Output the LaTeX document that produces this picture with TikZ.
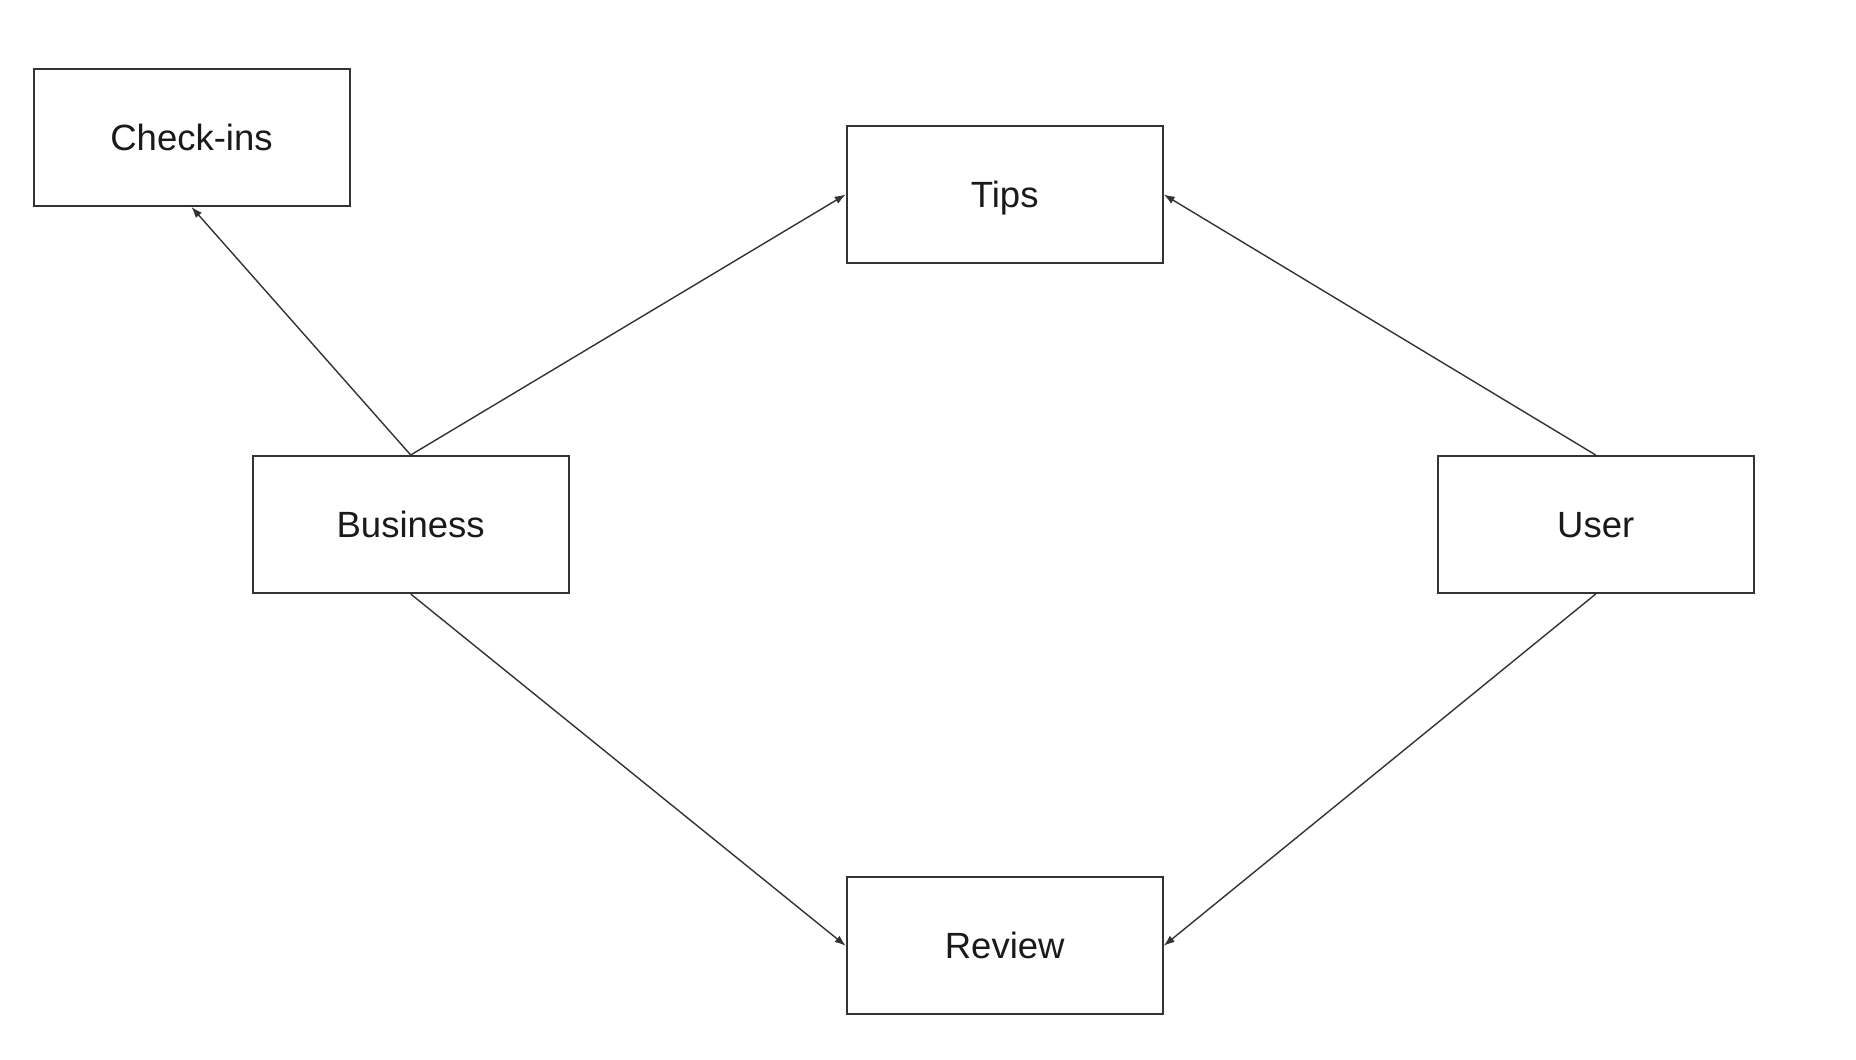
\documentclass[tikz,border=0pt]{standalone}
\usepackage{fontspec}
\setmainfont{Liberation Sans}
\usetikzlibrary{arrows.meta}
\definecolor{edgegray}{HTML}{333333}
\definecolor{textgray}{HTML}{1A1A1A}
\begin{document}
\begin{tikzpicture}[x=1pt,y=-1pt,
  entity/.style={draw=edgegray, line width=2pt, fill=white, minimum width=316pt, minimum height=137pt,
    inner sep=0pt, text height=26.1pt, text depth=0pt, font=\fontsize{36.5}{40}\selectfont, text=textgray},
  link/.style={draw=edgegray, line width=1.4pt, -{Latex[length=11pt,width=8pt]}}]
\useasboundingbox (0,0) rectangle (1856,1060);
\fill[white] (0,0) rectangle (1856,1060);
\node[entity] (checkins) at (191.5,137.5) {Check-ins};
\node[entity] (tips) at (1004.7,194.5) {Tips};
\node[entity] (business) at (410.7,524.5) {Business};
\node[entity] (user) at (1595.7,524.5) {User};
\node[entity] (review) at (1004.7,945.8) {Review};
\draw[link] (business.north) -- (checkins.south);
\draw[link] (business.north) -- (tips.west);
\draw[link] (user.north) -- (tips.east);
\draw[link] (business.south) -- (review.west);
\draw[link] (user.south) -- (review.east);
\end{tikzpicture}
\end{document}
